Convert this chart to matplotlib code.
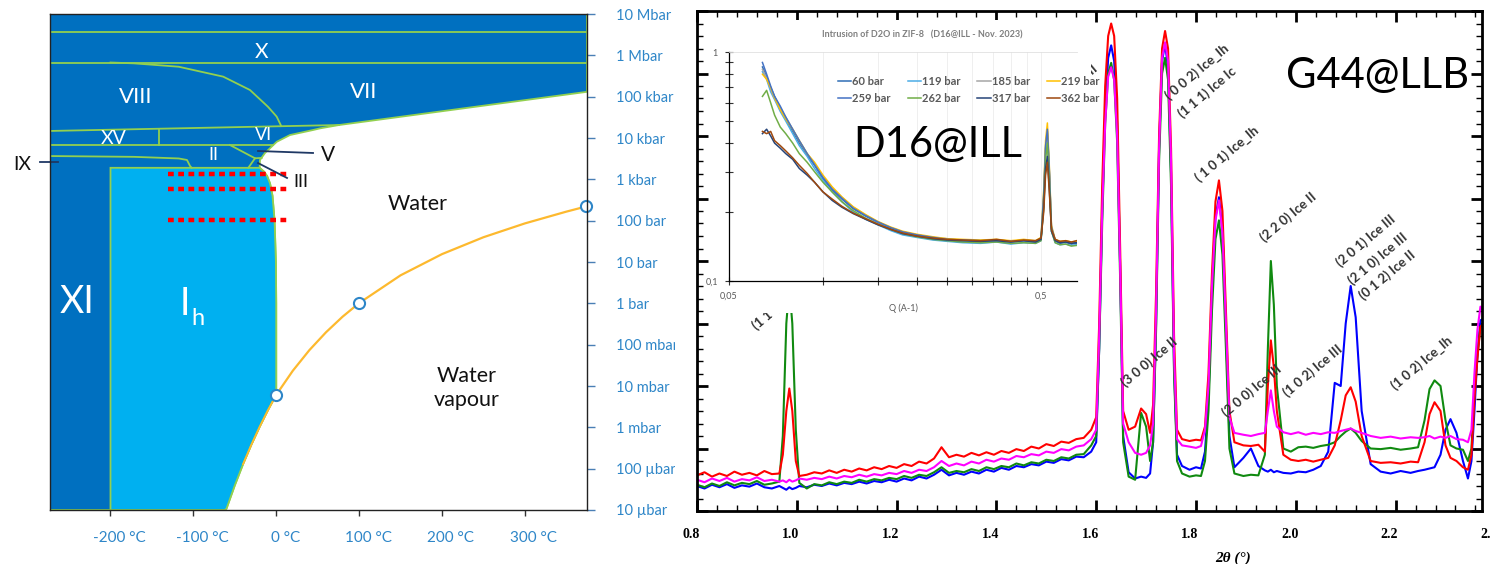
import numpy as np
import matplotlib
matplotlib.use('Agg')
import matplotlib.pyplot as plt
from matplotlib.patches import Rectangle
from matplotlib.ticker import MultipleLocator, NullLocator
from matplotlib.transforms import ScaledTranslation

plt.rcParams['font.family'] = ['Lato', 'DejaVu Sans']

W, H = 1490, 564

# ---------------- phase diagram of water (T in degC, P in bar) ----------------
vap_T = [0.01, 20, 40, 60, 80, 100, 150, 200, 250, 300, 350, 374]
vap_P = [0.00612, 0.0234, 0.0738, 0.199, 0.474, 1.013, 4.76, 15.5, 39.7, 85.8, 165.2, 220.6]
sub_T = [-62, -60, -50, -40, -30, -20, -10, 0.01]
sub_P = [1.0e-5, 1.08e-5, 3.94e-5, 1.29e-4, 3.8e-4, 1.03e-3, 2.6e-3, 6.12e-3]
melt_T = [0.01, 0.0, -0.4, -2, -4.5, -7.5, -11, -15, -20]
melt_P = [6.12e-3, 1, 10, 100, 400, 800, 1200, 1550, 1900]
liq_T = [-20, -19.6, -13.6, 0.6, 16.6, 44.4, 52.8, 75.7, 375]
liq_P = [1.9e3, 2.94e3, 4.33e3, 8.1e3, 1.18e4, 1.56e4, 1.71e4, 2.06e4, 1.31e5]
viii_T = [-200, -171.5, -117.7, -64, -31.7, -10, 0.5, 6]
viii_P = [6.7e5, 6.4e5, 5.3e5, 3.05e5, 1.45e5, 5.7e4, 3.3e4, 1.95e4]
ix_T = [-273, -171.5, -117.7, -107.7, -104, -102]
ix_P = [3.66e3, 3.5e3, 3.2e3, 2.94e3, 2.1e3, 1.9e3]
p_ticks = [1e-5, 1e-4, 1e-3, 1e-2, 1e-1, 1, 10, 100, 1e3, 1e4, 1e5, 1e6, 1e7]
p_labels = ['10 µbar', '100 µbar', '1 mbar', '10 mbar', '100 mbar', '1 bar', '10 bar',
            '100 bar', '1 kbar', '10 kbar', '100 kbar', '1 Mbar', '10 Mbar']
t_ticks = [-200, -100, 0, 100, 200, 300]
dot_T = [-131, 14]
dot_P = [1350, 580, 104]

# ---------------- G44@LLB diffraction (2theta in deg) ----------------
tt = [0.800, 0.815, 0.830, 0.845, 0.860, 0.875, 0.890, 0.905, 0.920, 0.935, 0.950, 0.965,
      0.972, 0.979, 0.985, 0.991, 0.998, 1.005,
      1.020, 1.035, 1.050, 1.065, 1.080, 1.095, 1.110, 1.125, 1.140, 1.155, 1.170, 1.185, 1.200,
      1.215, 1.230, 1.245, 1.260, 1.275, 1.290, 1.305, 1.320, 1.335, 1.350, 1.365, 1.380, 1.395,
      1.410, 1.425, 1.440, 1.455, 1.470, 1.485, 1.500, 1.515, 1.530, 1.545, 1.560, 1.575, 1.590,
      1.600, 1.606, 1.612, 1.618, 1.624, 1.630, 1.636, 1.642, 1.648, 1.654,
      1.665, 1.678, 1.690, 1.700, 1.708,
      1.714, 1.720, 1.726, 1.732, 1.738, 1.744, 1.750, 1.756, 1.762,
      1.772, 1.787, 1.800, 1.810,
      1.818, 1.825, 1.832, 1.839, 1.846, 1.853, 1.860, 1.867,
      1.877, 1.895, 1.910, 1.925, 1.938,
      1.944, 1.950, 1.956, 1.962,
      1.975, 1.990, 2.005, 2.020, 2.035, 2.050, 2.065,
      2.078, 2.090, 2.100, 2.110, 2.120, 2.132,
      2.150, 2.170, 2.190, 2.210, 2.230, 2.245,
      2.258, 2.268, 2.278, 2.290, 2.300, 2.310, 2.322, 2.335, 2.345,
      2.352, 2.358, 2.364, 2.370, 2.376]

i_blue = [0.40, 0.36, 0.42, 0.38, 0.43, 0.37, 0.41, 0.39, 0.44, 0.38, 0.36, 0.40,
          0.37, 0.34, 0.38, 0.35, 0.37, 0.40,
          0.38, 0.42, 0.40, 0.44, 0.41, 0.45, 0.43, 0.47, 0.44, 0.48, 0.46, 0.50, 0.47,
          0.52, 0.49, 0.55, 0.52, 0.58, 0.66, 0.57, 0.61, 0.58, 0.63, 0.60, 0.66, 0.63,
          0.69, 0.66, 0.72, 0.70, 0.75, 0.73, 0.79, 0.77, 0.83, 0.81, 0.87, 0.86, 0.95,
          1.1, 2.6, 4.8, 6.4, 7.25, 7.45, 7.2, 6.2, 3.9, 1.2,
          0.62, 0.52, 0.55, 0.53, 0.60,
          1.1, 3.0, 5.8, 7.2, 7.47, 7.1, 5.4, 2.3, 0.9,
          0.72, 0.66, 0.70, 0.68,
          0.95, 1.8, 3.5, 4.7, 5.02, 4.5, 2.9, 1.2,
          0.70, 0.85, 1.00, 0.72, 0.65,
          0.63, 0.66, 0.62, 0.64,
          0.61, 0.60, 0.63, 0.62, 0.66, 0.72, 0.95,
          2.05, 2.0, 3.0, 3.6, 3.1, 1.6,
          0.75, 0.63, 0.60, 0.64, 0.61, 0.64,
          0.66, 0.68, 0.70, 0.90, 1.30, 1.47, 1.25, 0.80, 0.52,
          0.80, 1.6, 2.5, 3.05, 3.08]

i_green = [0.42, 0.38, 0.44, 0.40, 0.46, 0.41, 0.45, 0.43, 0.48, 0.42, 0.44, 0.47,
           1.2, 3.0, 3.6, 3.0, 1.3, 0.45,
           0.36, 0.43, 0.41, 0.46, 0.43, 0.47, 0.45, 0.50, 0.47, 0.51, 0.49, 0.53, 0.51,
           0.56, 0.53, 0.58, 0.56, 0.62, 0.70, 0.61, 0.64, 0.62, 0.67, 0.64, 0.70, 0.67,
           0.72, 0.70, 0.76, 0.73, 0.78, 0.76, 0.82, 0.80, 0.86, 0.84, 0.90, 0.91, 1.05,
           1.2, 2.6, 4.6, 6.2, 7.0, 7.17, 6.9, 5.9, 3.7, 1.1,
           0.55, 0.50, 1.57, 1.35, 0.80,
           1.1, 2.9, 5.6, 7.0, 7.25, 6.9, 5.2, 2.2, 0.8,
           0.60, 0.55, 0.57, 0.56,
           0.8, 1.6, 3.2, 4.35, 4.65, 4.1, 2.6, 1.0,
           0.60, 0.56, 0.58, 0.57, 0.90,
           2.6, 4.0, 3.3, 2.0,
           1.0, 0.95, 1.02, 1.03, 1.01, 1.04, 1.06,
           1.10, 1.20, 1.27, 1.32, 1.25, 1.12,
           1.00, 0.99, 1.01, 0.98, 1.00, 1.02,
           1.45, 1.95, 2.09, 2.0, 1.45, 1.05, 1.0, 0.98, 0.80,
           1.0, 1.9, 2.5, 2.95, 3.0]

i_red = [0.57, 0.62, 0.55, 0.60, 0.56, 0.63, 0.58, 0.61, 0.57, 0.64, 0.59, 0.60,
         0.9, 1.6, 1.96, 1.6, 0.8, 0.56,
         0.58, 0.62, 0.60, 0.65, 0.61, 0.66, 0.63, 0.68, 0.65, 0.70, 0.67, 0.72, 0.69,
         0.75, 0.72, 0.79, 0.76, 0.84, 1.02, 0.86, 0.90, 0.87, 0.93, 0.89, 0.94, 0.90,
         0.96, 0.93, 0.99, 0.96, 1.03, 1.00, 1.07, 1.04, 1.11, 1.09, 1.15, 1.17, 1.30,
         1.5, 3.0, 5.2, 6.8, 7.6, 7.8, 7.6, 6.6, 4.2, 1.6,
         1.30, 1.35, 1.64, 1.55, 1.25,
         1.7, 3.5, 6.0, 7.4, 7.68, 7.4, 5.8, 2.8, 1.3,
         1.15, 1.12, 1.14, 1.13,
         1.35, 2.2, 3.8, 4.95, 5.29, 4.8, 3.2, 1.6,
         1.10, 1.05, 1.04, 1.06, 0.95,
         2.0, 2.73, 2.3, 1.6,
         0.9, 0.82, 0.80, 0.82, 0.79, 0.82, 0.85,
         1.05, 1.45, 1.85, 1.98, 1.75, 1.2,
         0.80, 0.77, 0.78, 0.76, 0.79, 0.78,
         1.10, 1.55, 1.74, 1.60, 1.05, 0.85, 0.80, 0.70, 0.66,
         0.9, 1.8, 2.45, 2.95, 3.0]

i_magenta = [0.50, 0.46, 0.52, 0.48, 0.53, 0.47, 0.51, 0.49, 0.54, 0.48, 0.50, 0.47,
             0.49, 0.46, 0.50, 0.47, 0.49, 0.52,
             0.50, 0.53, 0.51, 0.55, 0.52, 0.56, 0.54, 0.58, 0.55, 0.59, 0.57, 0.61, 0.59,
             0.64, 0.61, 0.66, 0.64, 0.70, 0.80, 0.72, 0.76, 0.73, 0.79, 0.76, 0.82, 0.79,
             0.84, 0.82, 0.88, 0.86, 0.91, 0.89, 0.95, 0.93, 0.99, 0.97, 1.03, 1.05, 1.15,
             1.3, 2.8, 4.8, 6.2, 6.95, 7.1, 6.9, 6.0, 3.9, 1.4,
             1.10, 0.93, 0.90, 0.93, 1.05,
             1.4, 3.2, 5.8, 7.25, 7.5, 7.2, 5.6, 2.5, 1.15,
             1.05, 1.03, 1.01, 1.04,
             1.3, 2.0, 3.6, 4.65, 4.97, 4.45, 3.0, 1.5,
             1.25, 1.22, 1.20, 1.23, 1.25,
             1.6, 1.93, 1.6, 1.35,
             1.26, 1.23, 1.26, 1.22, 1.25, 1.23, 1.26,
             1.25, 1.28, 1.30, 1.32, 1.28, 1.25,
             1.20, 1.17, 1.19, 1.16, 1.18, 1.17,
             1.18, 1.20, 1.16, 1.19, 1.17, 1.20, 1.15, 1.14, 1.10,
             1.3, 2.2, 2.9, 3.27, 3.2]

peak_labels = ['( 0 0 2) Ice_Ih', '(1 1 1) Ice Ic', '( 1 0 1) Ice_Ih', '(2 2 0) Ice II',
               '(2 0 1) Ice III', '(2 1 0) Ice III', '(0 1 2) Ice II', '(3 0 0) Ice II',
               '(2 0 0) Ice III', '(1 0 2) Ice III', '(1 0 2) Ice_Ih', '(1 1 0) Ice II']
peak_x = [1.748, 1.774, 1.808, 1.938, 2.089, 2.113, 2.135, 1.658, 1.862, 1.984, 2.199, 0.920]
peak_y = [6.57, 6.29, 5.26, 4.30, 3.90, 3.61, 3.37, 1.98, 1.50, 1.82, 1.93, 2.89]

# ---------------- D16@ILL inset (Q in A-1) ----------------
q = [0.064, 0.066, 0.068, 0.070, 0.073, 0.076, 0.080, 0.084, 0.089, 0.094,
     0.100, 0.107, 0.115, 0.125, 0.137, 0.150, 0.165, 0.180, 0.200, 0.225,
     0.250, 0.280, 0.320, 0.360, 0.400, 0.440, 0.480, 0.500, 0.510, 0.517,
     0.524, 0.531, 0.540, 0.555, 0.575, 0.600, 0.625, 0.650]
sans = {
    '60 bar': [0.86, 0.78, 0.70, 0.64, 0.57, 0.51, 0.45, 0.40, 0.355, 0.32, 0.28, 0.25, 0.228, 0.207,
               0.192, 0.180, 0.170, 0.163, 0.158, 0.154, 0.152, 0.150, 0.149, 0.151, 0.148, 0.150,
               0.148, 0.152, 0.23, 0.38, 0.45, 0.31, 0.17, 0.150, 0.146, 0.148, 0.145, 0.146],
    '119 bar': [0.82, 0.76, 0.67, 0.62, 0.55, 0.50, 0.44, 0.39, 0.35, 0.31, 0.275, 0.245, 0.222, 0.200,
                0.186, 0.176, 0.166, 0.159, 0.155, 0.151, 0.149, 0.147, 0.146, 0.148, 0.145, 0.147,
                0.146, 0.150, 0.22, 0.36, 0.43, 0.30, 0.165, 0.147, 0.144, 0.145, 0.143, 0.144],
    '185 bar': [0.84, 0.77, 0.69, 0.63, 0.57, 0.52, 0.46, 0.41, 0.36, 0.325, 0.285, 0.255, 0.232, 0.210,
                0.194, 0.181, 0.171, 0.164, 0.159, 0.155, 0.153, 0.151, 0.150, 0.151, 0.149, 0.151,
                0.149, 0.153, 0.23, 0.37, 0.44, 0.31, 0.17, 0.151, 0.148, 0.149, 0.147, 0.148],
    '219 bar': [0.80, 0.76, 0.70, 0.63, 0.56, 0.51, 0.46, 0.41, 0.36, 0.33, 0.29, 0.258, 0.233, 0.211,
                0.195, 0.182, 0.172, 0.165, 0.160, 0.156, 0.153, 0.152, 0.151, 0.152, 0.150, 0.152,
                0.150, 0.155, 0.25, 0.41, 0.49, 0.33, 0.175, 0.152, 0.149, 0.150, 0.148, 0.149],
    '259 bar': [0.90, 0.80, 0.71, 0.64, 0.58, 0.52, 0.46, 0.41, 0.36, 0.322, 0.283, 0.252, 0.230, 0.208,
                0.193, 0.181, 0.171, 0.164, 0.159, 0.155, 0.152, 0.151, 0.150, 0.150, 0.149, 0.150,
                0.149, 0.153, 0.24, 0.39, 0.46, 0.32, 0.172, 0.151, 0.147, 0.148, 0.146, 0.147],
    '262 bar': [0.64, 0.68, 0.60, 0.53, 0.47, 0.44, 0.40, 0.36, 0.33, 0.30, 0.27, 0.245, 0.222, 0.203,
                0.188, 0.177, 0.168, 0.161, 0.156, 0.152, 0.150, 0.148, 0.147, 0.148, 0.146, 0.147,
                0.146, 0.150, 0.21, 0.34, 0.40, 0.28, 0.165, 0.147, 0.144, 0.145, 0.142, 0.143],
    '317 bar': [0.44, 0.46, 0.43, 0.40, 0.38, 0.36, 0.34, 0.31, 0.29, 0.27, 0.245, 0.225, 0.210, 0.197,
                0.186, 0.176, 0.168, 0.161, 0.157, 0.153, 0.151, 0.150, 0.149, 0.150, 0.148, 0.150,
                0.148, 0.152, 0.21, 0.31, 0.35, 0.26, 0.165, 0.150, 0.147, 0.148, 0.146, 0.147],
    '362 bar': [0.45, 0.44, 0.45, 0.41, 0.39, 0.37, 0.345, 0.32, 0.295, 0.27, 0.245, 0.228, 0.212, 0.198,
                0.187, 0.177, 0.168, 0.162, 0.157, 0.154, 0.152, 0.151, 0.150, 0.152, 0.149, 0.151,
                0.150, 0.154, 0.20, 0.29, 0.33, 0.25, 0.168, 0.152, 0.149, 0.150, 0.148, 0.150],
}
sans_colors = ['#2F6EB5', '#4BACE6', '#A5A5A5', '#FFC000', '#4472C4', '#70AD47', '#264478', '#9E480E']

DARK = '#0070C0'
LIGHT = '#00B0F0'
GREEN = '#92D050'
ORANGE = '#FDB92E'
TXTBLUE = '#2E86C8'
NAVY = '#1F3864'


def frac(x0, y0, x1, y1):
    return [x0 / W, 1 - y1 / H, (x1 - x0) / W, (y1 - y0) / H]


fig = plt.figure(figsize=(W / 100, H / 100), dpi=100)

############## phase diagram ##############
ax1 = fig.add_axes(frac(50, 14, 587, 510), zorder=0)
ax1.set_yscale('log')
ax1.set_xlim(-273, 375)
ax1.set_ylim(1e-5, 1e7)

solid_T = [-273] + sub_T + melt_T[1:] + liq_T[1:] + [375, -273]
solid_P = [1e-5] + sub_P + melt_P[1:] + liq_P[1:] + [1e7, 1e7]
ax1.fill(solid_T, solid_P, fc=DARK, ec=GREEN, lw=1.3, zorder=1)
ih_T = [-200] + sub_T + melt_T[1:] + [-200]
ih_P = [1e-5] + sub_P + melt_P[1:] + [melt_P[-1]]
ax1.fill(ih_T, ih_P, fc=LIGHT, ec=GREEN, lw=1.3, zorder=2)

kw = dict(color=GREEN, lw=1.3, zorder=3)
ax1.plot([-273, 375], [3.6e6, 3.6e6], **kw)
ax1.plot([-273, 375], [6.7e5, 6.7e5], **kw)
ax1.plot([-273, 75.7], [1.48e4, 2.06e4], **kw)
ax1.plot([-273, -3.7], [6.76e3, 6.76e3], **kw)
ax1.plot([-141.5, -141.5], [6.76e3, 1.6e4], **kw)
ax1.plot(viii_T, viii_P, **kw)
ax1.plot(ix_T, ix_P, **kw)
ax1.plot([-55.8, -25.6, -17.5], [6.76e3, 3.23e3, 3.3e3], **kw)
ax1.plot([-25.6, -33.7], [3.23e3, 1.9e3], **kw)

ax1.plot(vap_T, vap_P, color=ORANGE, lw=1.6, zorder=4)
ax1.plot(sub_T[3:], sub_P[3:], color=ORANGE, lw=1.3, zorder=4)
ax1.plot([vap_T[0], vap_T[5], vap_T[-1]], [vap_P[0], vap_P[5], vap_P[-1]], 'o', ms=8,
         mfc='white', mec=TXTBLUE, mew=1.5, zorder=5, clip_on=False)

for p in dot_P:
    ax1.plot(dot_T, [p, p], color='#FF0000', lw=3.2, ls=(0, (1.3, 1.0)), zorder=4)

wk = dict(color='white', ha='center', va='center', zorder=6)
ax1.text(-17.2, 1.22e6, 'X', fontsize=15, **wk)
ax1.text(-170, 1.0e5, 'VIII', fontsize=16, **wk)
ax1.text(105.7, 1.32e5, 'VII', fontsize=16, **wk)
ax1.text(-196, 9.8e3, 'XV', fontsize=14, **wk)
ax1.text(-15.5, 1.17e4, 'VI', fontsize=13, **wk)
ax1.text(-75.8, 3.87e3, 'II', fontsize=13, **wk)
ax1.text(-240.4, 1.07, 'XI', fontsize=27, **wk)
ax1.text(-110, 0.96, 'I', fontsize=27, **wk)
ax1.text(-94.4, 0.44, 'h', fontsize=17, **wk)

ax1.text(170.3, 253, 'Water', fontsize=15.5, ha='center', va='center', color='#111111')
ax1.text(229.6, 8.9e-3, 'Water\nvapour', fontsize=15.5, ha='center', va='center',
         color='#111111', linespacing=1.25)

pk = dict(color=NAVY, lw=1.3, zorder=7, clip_on=False)
ax1.plot([-285, -263.3], [2.62e3, 2.62e3], **pk)
ax1.plot([-22, 44.4], [4.85e3, 4.34e3], **pk)
ax1.plot([-22, 13], [2.48e3, 1.08e3], **pk)
ax1.text(-306.4, 2.31e3, 'IX', fontsize=14, ha='center', va='center', color='#111111')
ax1.text(62.5, 3.88e3, 'V', fontsize=15, ha='center', va='center', color='#111111')
ax1.text(30.3, 848, 'III', fontsize=13, ha='center', va='center', color='#111111')

ax1.yaxis.tick_right()
ax1.set_yticks(p_ticks)
ax1.set_yticklabels(p_labels)
ax1.yaxis.set_minor_locator(NullLocator())
ax1.set_xticks(t_ticks)
ax1.set_xticklabels(['%d °C' % t for t in t_ticks])
ax1.tick_params(axis='y', direction='out', length=6, width=1, color='#4A7FB5',
                labelcolor=TXTBLUE, labelsize=10.5, pad=15)
ax1.tick_params(axis='x', direction='out', length=4, width=1, color='#333333',
                labelcolor=TXTBLUE, labelsize=11, pad=11)
right9 = ScaledTranslation(9 / 100, 0, fig.dpi_scale_trans)
for lab in ax1.get_xticklabels():
    lab.set_transform(lab.get_transform() + right9)
for s in ax1.spines.values():
    s.set_color('#222222')
    s.set_linewidth(1.0)
    s.set_zorder(8)

# white strip where the diffraction picture starts
fig.patches.append(Rectangle((675 / W, 0), 22 / W, 1, transform=fig.transFigure,
                             fc='white', ec='none', zorder=1))

############## diffraction G44@LLB ##############
ax2 = fig.add_axes(frac(697, 11, 1482, 511), zorder=2)
ax2.plot(tt, i_blue, color='#0000FF', lw=1.5)
ax2.plot(tt, i_green, color='#108A10', lw=1.5)
ax2.plot(tt, i_red, color='#FF0000', lw=1.5)
ax2.plot(tt, i_magenta, color='#FF00FF', lw=1.5)
ax2.set_xlim(0.8, 0.8 + 785 / 499)
ax2.set_ylim(0, 8)
ax2.set_xticks([0.8, 1.0, 1.2, 1.4, 1.6, 1.8, 2.0, 2.2])
ax2.set_xticklabels(['0.8', '1.0', '1.2', '1.4', '1.6', '1.8', '2.0', '2.2'])
ax2.xaxis.set_minor_locator(MultipleLocator(0.04))
ax2.yaxis.set_major_locator(MultipleLocator(1))
ax2.yaxis.set_minor_locator(MultipleLocator(0.2))
ax2.tick_params(which='major', direction='in', length=8, width=2, top=True, right=True,
                labelleft=False, labelsize=10, pad=12)
ax2.tick_params(which='minor', direction='in', length=4, width=1, top=True, right=True)
for s in ax2.spines.values():
    s.set_linewidth(2)
shift = ScaledTranslation(-6 / 100, 0, fig.dpi_scale_trans)
for lab in ax2.get_xticklabels():
    lab.set_fontfamily('Liberation Serif')
    lab.set_fontweight('bold')
    lab.set_transform(lab.get_transform() + shift)
ax2.text(2.4, -12 / 500 - 0.01, '2.4', transform=ax2.get_xaxis_transform() + shift,
         ha='center', va='top', fontsize=10, fontfamily='Liberation Serif',
         fontweight='bold', clip_on=False)

for s, x, y in zip(peak_labels, peak_x, peak_y):
    ax2.text(x, y, s, rotation=40, rotation_mode='anchor', ha='left', va='baseline',
             fontsize=9.5, fontweight='bold', color='#333333')
ax2.text(1.604, 7.05, '(1 0 0) Ice II', rotation=40, rotation_mode='anchor', ha='right',
         va='baseline', fontsize=9.5, fontweight='bold', color='#333333')

fig.text(1233 / W, 1 - 558 / H, '2θ (°)', ha='center', va='center', fontsize=11,
         fontfamily='Liberation Serif', fontweight='bold', fontstyle='italic')
fig.text(1378 / W, 1 - 76 / H, 'G44@LLB', ha='center', va='center', fontsize=30, zorder=5)

############## inset D16@ILL ##############
axbg = fig.add_axes(frac(712, 20, 1091, 313), zorder=3)
axbg.set_xticks([])
axbg.set_yticks([])
for s in axbg.spines.values():
    s.set_visible(False)

ax3 = fig.add_axes(frac(729, 52, 1077, 281), zorder=4)
ax3.set_facecolor('none')
lines = []
for (name, vals), c in zip(sans.items(), sans_colors):
    ln, = ax3.plot(q, vals, color=c, lw=1.1, label=name)
    lines.append(ln)
ax3.set_xscale('log')
ax3.set_yscale('log')
ax3.set_xlim(0.05, 0.652)
ax3.set_ylim(0.1, 1)
xt = [0.05, 0.1, 0.15, 0.2, 0.25, 0.3, 0.35, 0.4, 0.45, 0.5]
ax3.set_xticks(xt)
ax3.set_xticklabels(['0,05'] + [''] * 8 + ['0,5'])
yt = [0.1, 0.2, 0.3, 0.4, 0.5, 0.6, 0.7, 0.8, 0.9, 1.0]
ax3.set_yticks(yt)
ax3.set_yticklabels(['0,1'] + [''] * 8 + ['1'])
ax3.xaxis.set_minor_locator(NullLocator())
ax3.yaxis.set_minor_locator(NullLocator())
ax3.tick_params(direction='inout', length=6, width=0.8, color='#333333',
                labelsize=6.5, labelcolor='#595959', pad=5)
ax3.grid(axis='x', color='#EDEDED', lw=0.6)
ax3.spines['right'].set_visible(False)
ax3.spines['top'].set_color('#E0E0E0')
ax3.spines['top'].set_linewidth(0.6)
ax3.spines['left'].set_linewidth(0.9)
ax3.spines['bottom'].set_linewidth(0.9)
order = [0, 4, 1, 5, 2, 6, 3, 7]
leg = ax3.legend([lines[i] for i in order], [lines[i].get_label() for i in order], ncol=4,
                 loc='upper left', bbox_to_anchor=((838 - 729) / 348, (281 - 76) / 229),
                 frameon=False, prop={'size': 8, 'weight': 'bold'}, handlelength=1.2,
                 handletextpad=0.1, columnspacing=1.5, labelspacing=0.5,
                 borderaxespad=0, borderpad=0)
for t in leg.get_texts():
    t.set_color('#595959')

fig.text(922 / W, 1 - 35 / H, 'Intrusion of D2O in ZIF-8   (D16@ILL - Nov. 2023)', ha='center',
         va='center', fontsize=6.5, fontweight='bold', color='#7F7F7F', zorder=5)
fig.text(903 / W, 1 - 308 / H, 'Q (A-1)', ha='center', va='center', fontsize=6.5,
         color='#595959', zorder=5)
fig.text(938 / W, 1 - 145 / H, 'D16@ILL', ha='center', va='center', fontsize=30, zorder=5)

plt.savefig('out.png', dpi=100)
